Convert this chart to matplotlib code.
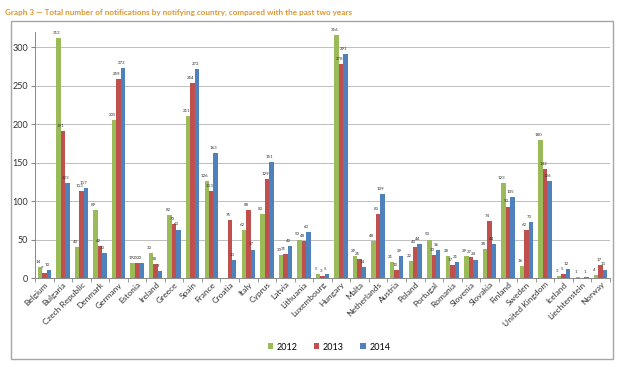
import matplotlib
matplotlib.use("Agg")
import matplotlib.pyplot as plt
import numpy as np
from matplotlib.patches import Rectangle

plt.rcParams['font.family'] = ['Lato', 'DejaVu Sans']

countries = ["Belgium", "Bulgaria", "Czech Republic", "Denmark", "Germany", "Estonia",
             "Ireland", "Greece", "Spain", "France", "Croatia", "Italy", "Cyprus", "Latvia",
             "Lithuania", "Luxembourg", "Hungary", "Malta", "Netherlands", "Austria",
             "Poland", "Portugal", "Romania", "Slovenia", "Slovakia", "Finland", "Sweden",
             "United Kingdom", "Iceland", "Liechtenstein", "Norway"]
v2012 = [14, 312, 40, 89, 205, 19, 33, 82, 211, 126, 0, 62, 83, 30, 50, 5, 316, 29, 48, 21,
         22, 50, 28, 29, 38, 123, 16, 180, 3, 1, 4]
v2013 = [7, 191, 113, 42, 259, 20, 18, 70, 254, 113, 75, 88, 129, 31, 48, 3, 278, 25, 83, 10,
         40, 30, 17, 27, 74, 93, 62, 142, 5, 0, 17]
v2014 = [10, 123, 117, 33, 273, 20, 9, 63, 272, 163, 23, 37, 151, 42, 60, 5, 291, 14, 109, 29,
         44, 36, 21, 24, 44, 105, 73, 126, 12, 1, 11]
series = [("2012", v2012, "#9BBB59"), ("2013", v2013, "#C0504D"), ("2014", v2014, "#4F81BD")]

W, H = 627, 372
fig = plt.figure(figsize=(W / 100, H / 100), dpi=100)
fig.patch.set_facecolor("white")

# outer frame
fig.patches.append(Rectangle((11 / W, 1 - 359 / H), (613 - 11) / W, (359 - 21) / H,
                             transform=fig.transFigure, fill=False, edgecolor="#A6A6A6",
                             linewidth=1.0))
fig.text(5 / W, 1 - 12 / H, "Graph 3 \u2014 Total number of notifications by notifying country, compared with the past two years",
         color="#E0952F", fontsize=5.9, fontweight="bold", va="center", ha="left")

ax = fig.add_axes([35 / W, 1 - 278 / H, (610 - 35) / W, (278 - 32) / H])
x = np.arange(len(countries))
bw = 0.24
for i, (name, vals, col) in enumerate(series):
    pos = x + (i - 1) * bw
    ax.bar(pos, vals, width=bw, color=col, label=name, zorder=3)
    for p, v in zip(pos, vals):
        if v == 0:
            continue
        ax.text(p - 0.1, v + 4, str(v), fontsize=3.2, ha="center", va="bottom", color="#333333", zorder=4)

ax.set_ylim(0, 320)
ax.set_xlim(-0.5, len(countries) - 0.5)
ax.set_yticks(range(0, 301, 50))
ax.tick_params(axis="y", labelsize=6.5, length=3, color="#888888", pad=2, labelcolor="#333333")
ax.yaxis.grid(True, color="#BFBFBF", linewidth=0.7, zorder=0)
ax.set_axisbelow(True)
ax.set_xticks(x)
ax.set_xticklabels(countries, rotation=45, ha="right", rotation_mode="anchor", fontsize=6,
                   color="#333333")
ax.tick_params(axis="x", length=0, pad=2)
ax.set_xticks(np.arange(-0.5, len(countries), 1), minor=True)
ax.tick_params(axis="x", which="minor", length=3, color="#888888")
for s in ["top", "right"]:
    ax.spines[s].set_visible(False)
ax.spines["left"].set_color("#888888")
ax.spines["bottom"].set_color("#888888")
ax.spines["left"].set_linewidth(0.7)
ax.spines["bottom"].set_linewidth(0.7)

leg = fig.legend(loc="center", bbox_to_anchor=(329 / W, 1 - 347 / H), ncol=3, frameon=False,
                 fontsize=6.5, handlelength=0.6, handleheight=0.6, columnspacing=1.8,
                 handletextpad=0.4)
fig.savefig("out.png", dpi=100)
